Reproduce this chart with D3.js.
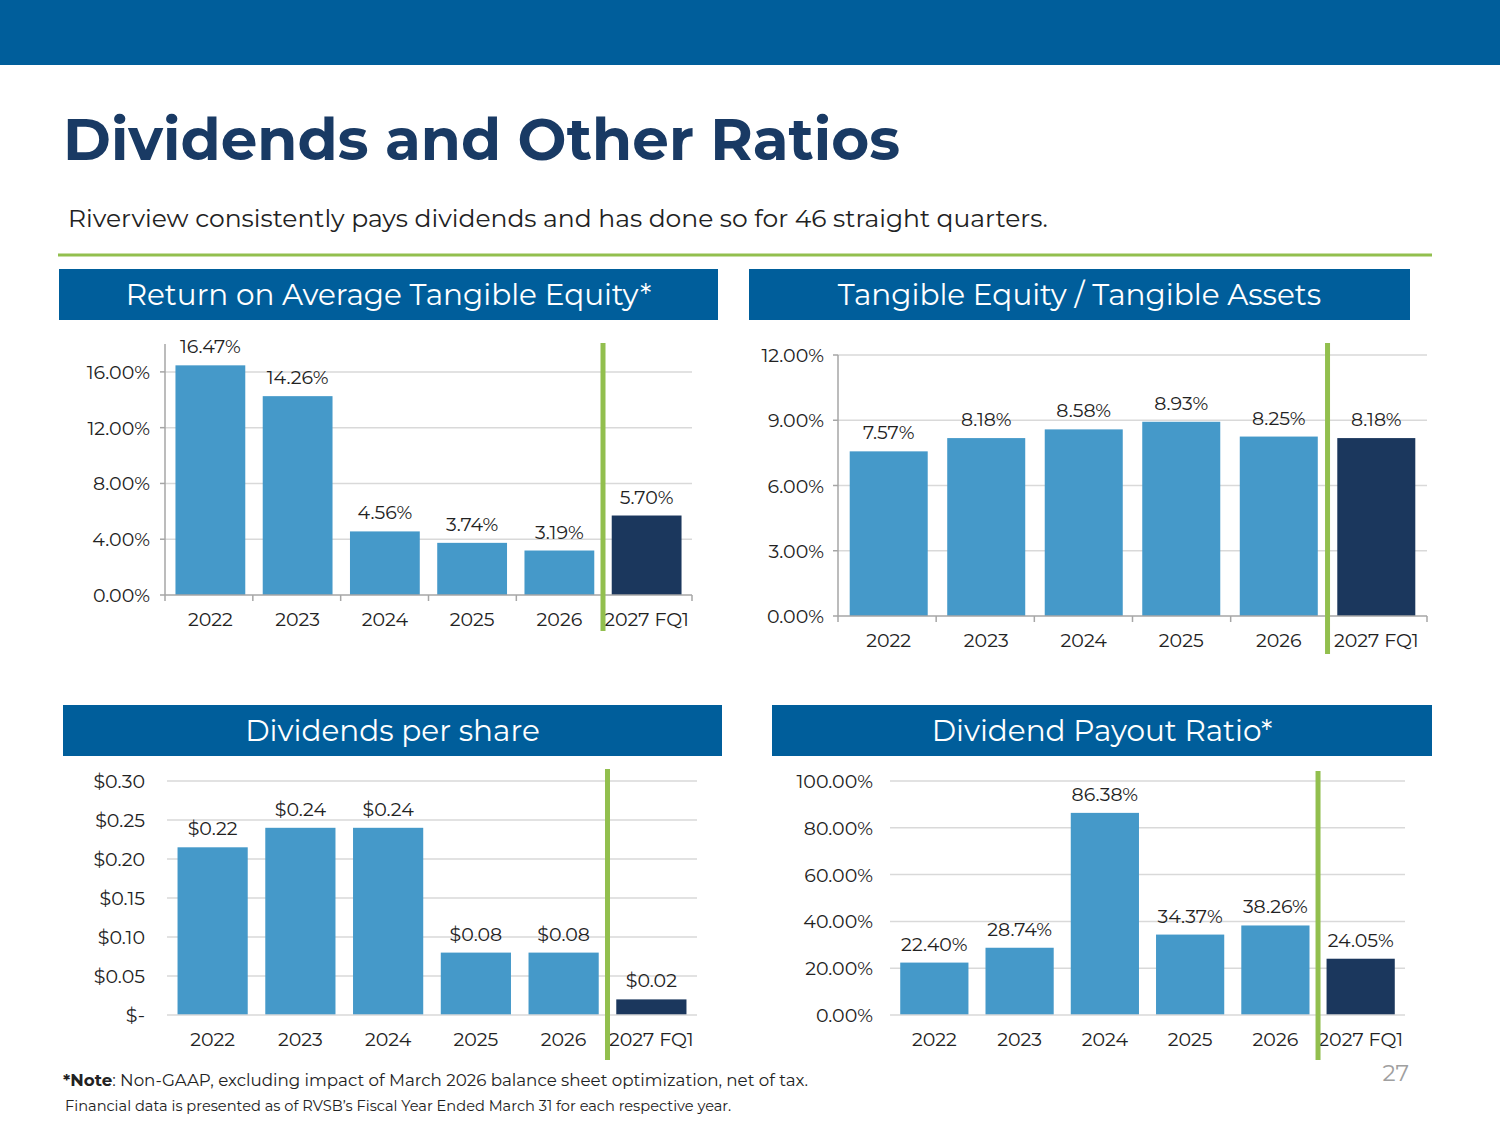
<!DOCTYPE html>
<html>
<head>
<meta charset="utf-8">
<script src="https://cdn.jsdelivr.net/npm/d3@7.9.0/dist/d3.min.js"></script>
<style>
  html, body { margin: 0; padding: 0; background: #fff; }
  svg { display: block; font-family: "Montserrat", "Open Sans", sans-serif; }
</style>
</head>
<body>
<svg id="slide" width="1500" height="1125"></svg>
<script>
// categories shared by all four charts
const years = ['2022', '2023', '2024', '2025', '2026', '2027 FQ1'];

// series values
const roate = [16.47, 14.26, 4.56, 3.74, 3.19, 5.70];          // Return on Average Tangible Equity (%)
const teta = [7.57, 8.18, 8.58, 8.93, 8.25, 8.18];              // Tangible Equity / Tangible Assets (%)
const dps = [0.215, 0.24, 0.24, 0.08, 0.08, 0.02];              // Dividends per share ($)
const payout = [22.40, 28.74, 86.38, 34.37, 38.26, 24.05];      // Dividend Payout Ratio (%)

// tick values
const roateTicks = [0, 4, 8, 12, 16];
const tetaTicks = [0, 3, 6, 9, 12];
const dpsTicks = [0, 0.05, 0.10, 0.15, 0.20, 0.25, 0.30];
const payoutTicks = [0, 20, 40, 60, 80, 100];

const BLUE = '#005e9b';
const BAR = '#4599c9';
const DARK = '#1b375d';
const GREEN = '#92bf4e';
const TEXT = '#222';
const FS = 19; // chart text size

const svg = d3.select('#slide');

// top banner + title
svg.append('rect').attr('x', 0).attr('y', 0).attr('width', 1500).attr('height', 65).attr('fill', BLUE);

svg.append('text')
  .attr('x', 63).attr('y', 160)
  .attr('font-size', 58).attr('font-weight', 700)
  .attr('fill', '#193a64')
  .text('Dividends and Other Ratios');

svg.append('text')
  .attr('x', 68).attr('y', 227)
  .attr('font-size', 25).attr('fill', TEXT)
  .text('Riverview consistently pays dividends and has done so for 46 straight quarters.');

svg.append('line')
  .attr('x1', 58).attr('x2', 1432).attr('y1', 255).attr('y2', 255)
  .attr('stroke', GREEN).attr('stroke-width', 3);

function pct(v) { return v.toFixed(2) + '%'; }
function dollars(v) {
  if (v === 0) return '$-';
  return '$' + (Math.round(v * 100 + 1e-9) / 100).toFixed(2);
}

function drawChart(cfg) {
  // header box
  svg.append('rect')
    .attr('x', cfg.box[0]).attr('y', cfg.box[1])
    .attr('width', cfg.box[2]).attr('height', 51)
    .attr('fill', BLUE);
  svg.append('text')
    .attr('x', cfg.box[0] + cfg.box[2] / 2).attr('y', cfg.box[1] + 36)
    .attr('text-anchor', 'middle')
    .attr('font-size', 29.5).attr('fill', '#fff')
    .text(cfg.title);

  const x = d3.scaleBand().domain(years).range(cfg.xRange).paddingInner(0.2).paddingOuter(0.12);
  const y = d3.scaleLinear().domain([0, cfg.max]).range(cfg.yRange);

  const g = svg.append('g');

  // gridlines
  g.selectAll('.grid')
    .data(cfg.ticks.filter(t => t > 0))
    .join('line')
    .attr('x1', cfg.xRange[0]).attr('x2', cfg.xRange[1])
    .attr('y1', d => y(d)).attr('y2', d => y(d))
    .attr('stroke', '#d9d9d9').attr('stroke-width', 1.5);

  // y tick labels
  g.selectAll('.ylab')
    .data(cfg.ticks)
    .join('text')
    .attr('x', cfg.xRange[0] - cfg.labelGap)
    .attr('y', d => y(d) + 7)
    .attr('text-anchor', 'end')
    .attr('font-size', FS).attr('fill', TEXT)
    .text(cfg.fmt);

  // bars
  g.selectAll('.bar')
    .data(cfg.values)
    .join('rect')
    .attr('x', (d, i) => x(years[i]))
    .attr('width', x.bandwidth())
    .attr('y', d => y(d))
    .attr('height', d => y(0) - y(d))
    .attr('fill', (d, i) => i === years.length - 1 ? DARK : BAR);

  // data labels
  g.selectAll('.dlab')
    .data(cfg.values)
    .join('text')
    .attr('x', (d, i) => x(years[i]) + x.bandwidth() / 2)
    .attr('y', d => y(d) - 12)
    .attr('text-anchor', 'middle')
    .attr('font-size', FS).attr('fill', TEXT)
    .text(cfg.fmt);

  // axes
  const axisColor = '#a6a6a6';
  g.append('line')
    .attr('x1', cfg.xRange[0]).attr('x2', cfg.xRange[1])
    .attr('y1', y(0)).attr('y2', y(0))
    .attr('stroke', cfg.yAxis ? axisColor : '#d9d9d9').attr('stroke-width', 1.5);

  if (cfg.yAxis) {
    g.append('line')
      .attr('x1', cfg.xRange[0]).attr('x2', cfg.xRange[0])
      .attr('y1', y(0)).attr('y2', y(cfg.max))
      .attr('stroke', axisColor).attr('stroke-width', 1.5);
    // y ticks
    g.selectAll('.ytick')
      .data(cfg.ticks)
      .join('line')
      .attr('x1', cfg.xRange[0] - 5).attr('x2', cfg.xRange[0])
      .attr('y1', d => y(d)).attr('y2', d => y(d))
      .attr('stroke', axisColor).attr('stroke-width', 1.5);
    // x ticks at category boundaries
    const step = (cfg.xRange[1] - cfg.xRange[0]) / years.length;
    g.selectAll('.xtick')
      .data(d3.range(years.length + 1))
      .join('line')
      .attr('x1', i => cfg.xRange[0] + i * step).attr('x2', i => cfg.xRange[0] + i * step)
      .attr('y1', y(0)).attr('y2', y(0) + 6)
      .attr('stroke', axisColor).attr('stroke-width', 1.5);
  }

  // category labels
  g.selectAll('.xlab')
    .data(years)
    .join('text')
    .attr('x', d => x(d) + x.bandwidth() / 2)
    .attr('y', y(0) + 31)
    .attr('text-anchor', 'middle')
    .attr('font-size', FS).attr('fill', TEXT)
    .text(d => d);

  // green divider between the fiscal years and the current quarter
  const gx = x(years[5]) - x.step() * x.paddingInner() / 2;
  g.append('line')
    .attr('x1', gx).attr('x2', gx)
    .attr('y1', cfg.green[0]).attr('y2', cfg.green[1])
    .attr('stroke', GREEN).attr('stroke-width', 5);
}

drawChart({
  title: 'Return on Average Tangible Equity*', box: [59, 269, 659],
  values: roate, ticks: roateTicks, max: 18, fmt: pct,
  xRange: [165, 692], yRange: [595, 344], labelGap: 15, yAxis: true, green: [343, 631]
});
drawChart({
  title: 'Tangible Equity / Tangible Assets', box: [749, 269, 661],
  values: teta, ticks: tetaTicks, max: 12, fmt: pct,
  xRange: [838, 1427], yRange: [616, 355], labelGap: 14, yAxis: true, green: [343, 654]
});
drawChart({
  title: 'Dividends per share', box: [63, 705, 659],
  values: dps, ticks: dpsTicks, max: 0.30, fmt: dollars,
  xRange: [167, 697], yRange: [1015, 781], labelGap: 22, yAxis: false, green: [769, 1060]
});
drawChart({
  title: 'Dividend Payout Ratio*', box: [772, 705, 660],
  values: payout, ticks: payoutTicks, max: 100, fmt: pct,
  xRange: [890, 1405], yRange: [1015, 781], labelGap: 17, yAxis: false, green: [771, 1060]
});

// footnotes
const note = svg.append('text').attr('x', 63).attr('y', 1086).attr('font-size', 16.7).attr('fill', TEXT);
note.append('tspan').attr('font-weight', 700).text('*Note');
note.append('tspan').text(': Non-GAAP, excluding impact of March 2026 balance sheet optimization, net of tax.');

svg.append('text')
  .attr('x', 65).attr('y', 1111)
  .attr('font-size', 14.6).attr('fill', TEXT)
  .text('Financial data is presented as of RVSB\u2019s Fiscal Year Ended March 31 for each respective year.');

svg.append('text')
  .attr('x', 1409).attr('y', 1081)
  .attr('text-anchor', 'end')
  .attr('font-size', 23).attr('fill', '#a0a0a0')
  .text('27');
</script>
</body>
</html>
